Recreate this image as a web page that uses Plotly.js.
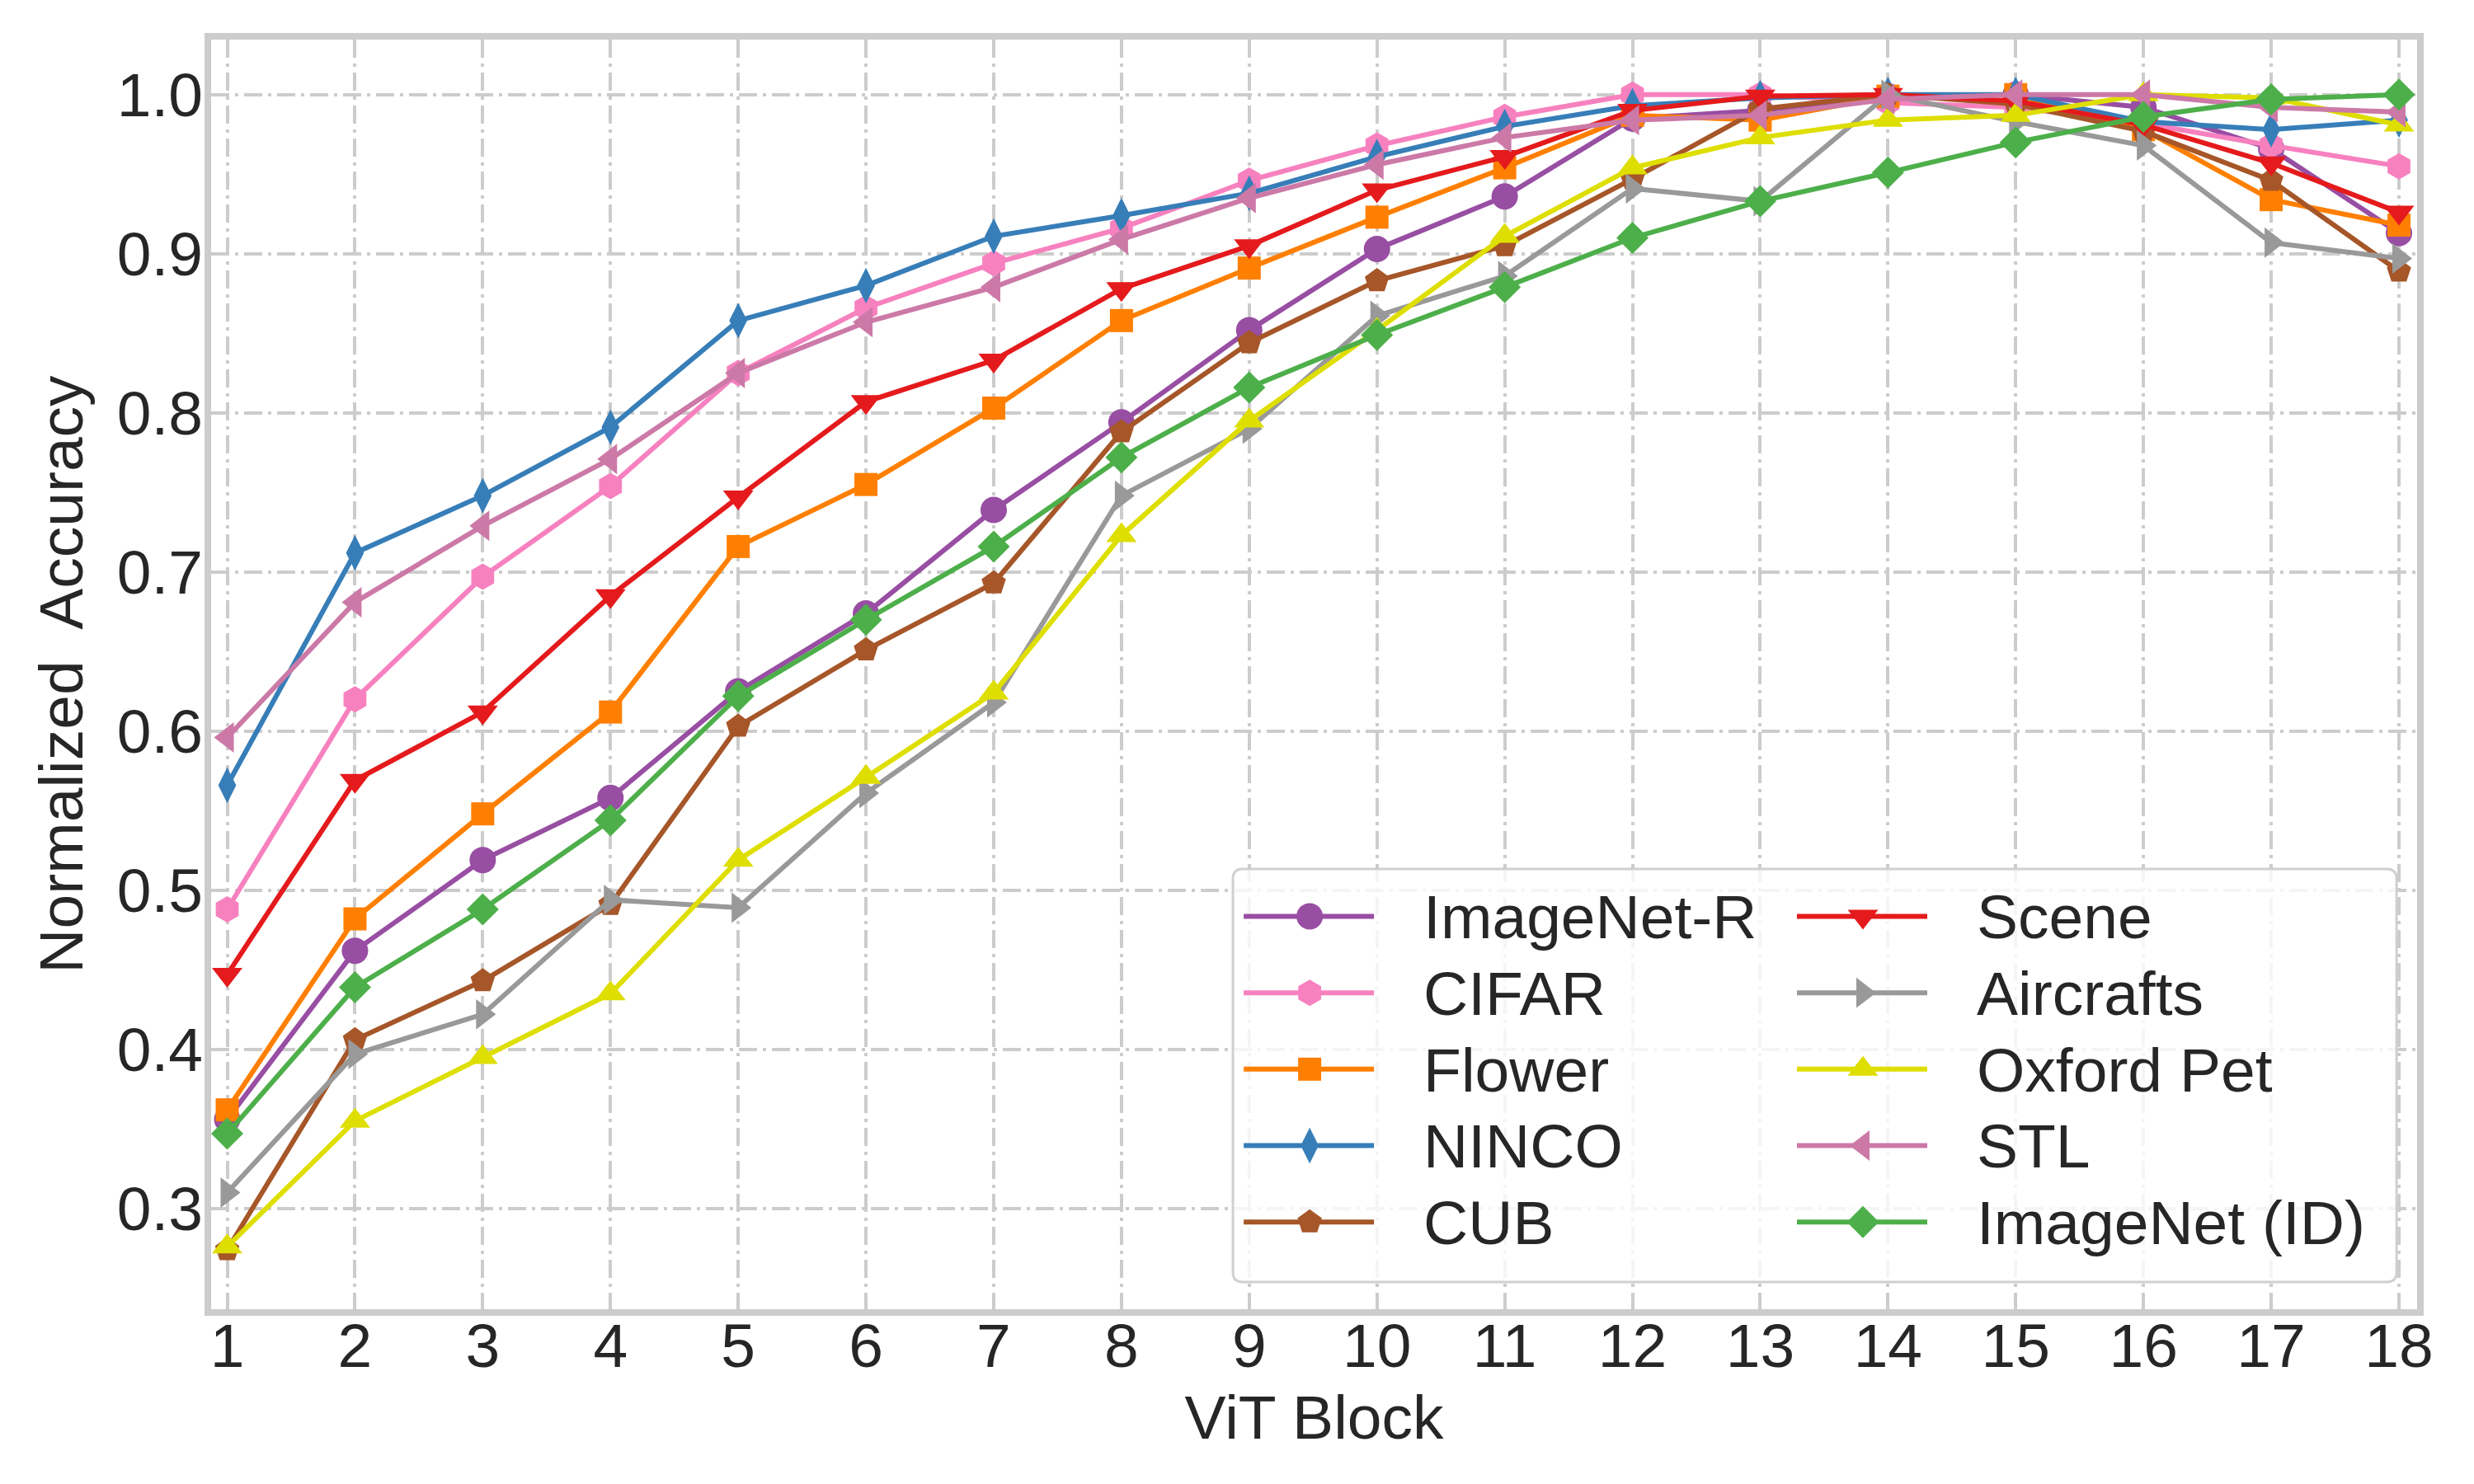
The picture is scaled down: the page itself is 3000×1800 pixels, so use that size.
<!DOCTYPE html>
<html>
<head>
<meta charset="utf-8">
<script src="https://cdn.plot.ly/plotly-3.0.1.min.js"></script>
<style>
  html, body { margin: 0; padding: 0; background: #fff; }
  #chart { width: 3000px; height: 1800px; }
</style>
</head>
<body>
<div id="chart"></div>
<script>
// Данные
const blocks = [1, 2, 3, 4, 5, 6, 7, 8, 9, 10, 11, 12, 13, 14, 15, 16, 17, 18];

const imagenetR = [0.356, 0.462, 0.519, 0.558, 0.625, 0.674, 0.739, 0.794, 0.852, 0.903, 0.936, 0.985, 0.990, 0.999, 1.000, 0.992, 0.966, 0.913];
const cifar     = [0.488, 0.620, 0.697, 0.754, 0.825, 0.866, 0.894, 0.916, 0.946, 0.968, 0.986, 1.000, 1.000, 0.995, 0.992, 0.982, 0.968, 0.955];
const flower    = [0.362, 0.482, 0.548, 0.612, 0.716, 0.755, 0.803, 0.858, 0.891, 0.923, 0.954, 0.987, 0.984, 0.999, 1.000, 0.978, 0.934, 0.918];
const ninco     = [0.566, 0.712, 0.748, 0.791, 0.858, 0.880, 0.911, 0.924, 0.938, 0.961, 0.980, 0.993, 0.998, 1.000, 1.000, 0.983, 0.978, 0.984];
const cub       = [0.274, 0.406, 0.443, 0.491, 0.603, 0.651, 0.693, 0.788, 0.844, 0.883, 0.905, 0.947, 0.991, 1.000, 0.994, 0.977, 0.946, 0.889];
const scene     = [0.447, 0.569, 0.612, 0.685, 0.747, 0.807, 0.833, 0.878, 0.905, 0.940, 0.961, 0.990, 0.999, 1.000, 0.996, 0.981, 0.957, 0.926];
const aircrafts = [0.310, 0.397, 0.422, 0.494, 0.489, 0.561, 0.618, 0.748, 0.790, 0.861, 0.886, 0.941, 0.933, 1.000, 0.983, 0.968, 0.907, 0.897];
const oxfordPet = [0.276, 0.355, 0.395, 0.435, 0.519, 0.571, 0.624, 0.723, 0.795, 0.852, 0.911, 0.954, 0.973, 0.984, 0.987, 1.000, 0.998, 0.981];
const stl       = [0.596, 0.681, 0.729, 0.771, 0.825, 0.857, 0.879, 0.909, 0.935, 0.956, 0.973, 0.984, 0.987, 0.997, 1.000, 1.000, 0.992, 0.989];
const imagenet  = [0.347, 0.439, 0.488, 0.544, 0.622, 0.670, 0.716, 0.772, 0.816, 0.849, 0.879, 0.910, 0.933, 0.951, 0.970, 0.986, 0.997, 1.000];

const seriesNames = ["ImageNet-R", "CIFAR", "Flower", "NINCO", "CUB", "Scene", "Aircrafts", "Oxford Pet", "STL", "ImageNet (ID)"];
const seriesValues = [imagenetR, cifar, flower, ninco, cub, scene, aircrafts, oxfordPet, stl, imagenet];
const seriesColors = ["#984ea3", "#f781bf", "#ff7f00", "#377eb8", "#a65628", "#e41a1c", "#999999", "#dede00", "#cc79a7", "#4daf4a"];
const seriesSymbols = ["circle", "hexagon", "square", "diamond-tall", "pentagon", "triangle-down", "triangle-right", "triangle-up", "triangle-left", "diamond"];
const seriesSizes = [32, 32, 28, 31, 31, 32, 32, 32, 32, 30];

const yTicks = [0.3, 0.4, 0.5, 0.6, 0.7, 0.8, 0.9, 1.0];
const yTickText = ["0.3", "0.4", "0.5", "0.6", "0.7", "0.8", "0.9", "1.0"];

const TEXT_COLOR = "#262626";
const GRID_COLOR = "#cccccc";
const FONT = "Liberation Sans, Arial, sans-serif";
const TEXT_SIZE = 75;

// Легенда: ширина элемента и короткая линия-образец
const LEGEND_ITEM_WIDTH = 266;
const LEGEND_LINE = "M58,0h158";
const LEGEND_MARKER_CAP = 16; // plotly ограничивает маркеры в легенде 16px

// Линии
const traces = seriesNames.map((name, i) => ({
  x: blocks,
  y: seriesValues[i],
  name: '<span style="font-size:' + TEXT_SIZE + 'px">' + name + "</span>",
  type: "scatter",
  mode: "lines+markers",
  line: { color: seriesColors[i], width: 6 },
  marker: { color: seriesColors[i], symbol: seriesSymbols[i], size: seriesSizes[i] },
  legend: i < 5 ? "legend" : "legend2",
}));

// Рамка легенды со скруглёнными углами (в долях области графика)
function roundedBox(x0, x1, y0, y1, rx, ry) {
  return "M" + (x0 + rx) + "," + y0 +
    " L" + (x1 - rx) + "," + y0 + " Q" + x1 + "," + y0 + " " + x1 + "," + (y0 + ry) +
    " L" + x1 + "," + (y1 - ry) + " Q" + x1 + "," + y1 + " " + (x1 - rx) + "," + y1 +
    " L" + (x0 + rx) + "," + y1 + " Q" + x0 + "," + y1 + " " + x0 + "," + (y1 - ry) +
    " L" + x0 + "," + (y0 + ry) + " Q" + x0 + "," + y0 + " " + (x0 + rx) + "," + y0 + " Z";
}

const legendCommon = {
  orientation: "v",
  xanchor: "left",
  yanchor: "top",
  y: 0.3428,
  bgcolor: "rgba(0,0,0,0)",
  borderwidth: 0,
  itemwidth: LEGEND_ITEM_WIDTH,
  // размер шрифта здесь задаёт шаг строк, сам текст — 75px
  font: { family: FONT, size: 69, color: TEXT_COLOR },
};

const gridDash = "22px,7px,4px,7px";

const axisCommon = {
  ticks: "",
  showgrid: true,
  gridcolor: GRID_COLOR,
  gridwidth: 4,
  griddash: gridDash,
  zeroline: false,
  showline: true,
  linecolor: GRID_COLOR,
  linewidth: 8,
  mirror: true,
  automargin: false,
  tickfont: { family: FONT, size: TEXT_SIZE, color: TEXT_COLOR },
};

const layout = {
  width: 3000,
  height: 1800,
  margin: { l: 256, r: 69, t: 48, b: 212 },
  paper_bgcolor: "#ffffff",
  plot_bgcolor: "#ffffff",
  font: { family: FONT, size: TEXT_SIZE, color: TEXT_COLOR },
  showlegend: true,
  legend: Object.assign({ x: 0.4464 }, legendCommon),
  legend2: Object.assign({ x: 0.6972 }, legendCommon),
  xaxis: Object.assign({}, axisCommon, {
    range: [0.874, 18.142],
    tickmode: "array",
    tickvals: blocks,
    ticktext: blocks.map(String),
    ticklabelstandoff: -28,
    title: { text: "ViT Block", font: { family: FONT, size: TEXT_SIZE, color: TEXT_COLOR }, standoff: 22 },
  }),
  yaxis: Object.assign({}, axisCommon, {
    range: [0.2367, 1.0346],
    tickmode: "array",
    tickvals: yTicks,
    ticktext: yTickText,
    ticklabelstandoff: -13,
    title: { text: "Normalized\u00a0 Accuracy", font: { family: FONT, size: TEXT_SIZE, color: TEXT_COLOR }, standoff: 19 },
  }),
  shapes: [
    {
      type: "path",
      xref: "paper",
      yref: "paper",
      layer: "above",
      path: roundedBox(0.4632, 0.9907, 0.0214, 0.3468, 0.0045, 0.0078),
      fillcolor: "rgba(255,255,255,0.8)",
      line: { color: "#d0d0d0", width: 3 },
    },
  ],
};

const config = { responsive: false, displayModeBar: false, staticPlot: true };

/**
 * @description Подгоняет образцы в обеих легендах: короче линия, маркеры как на графике
 */
function tuneLegend(gd) {
  gd.querySelectorAll("g.legend .traces, g.legend2 .traces").forEach((item) => {
    const d = item.__data__;
    if (!d || !d[0] || !d[0].trace) return;
    const idx = d[0].trace.index;
    item.querySelectorAll(".legendlines path").forEach((p) => p.setAttribute("d", LEGEND_LINE));
    const k = seriesSizes[idx] / LEGEND_MARKER_CAP;
    item.querySelectorAll(".legendpoints path").forEach((p) => {
      const t = p.getAttribute("transform") || "";
      p.setAttribute("transform", t + " scale(" + k + ")");
    });
  });
}

Plotly.newPlot("chart", traces, layout, config).then((gd) => {
  try {
    tuneLegend(gd);
  } catch (e) {
    console.log(e);
  }
});
</script>
</body>
</html>
